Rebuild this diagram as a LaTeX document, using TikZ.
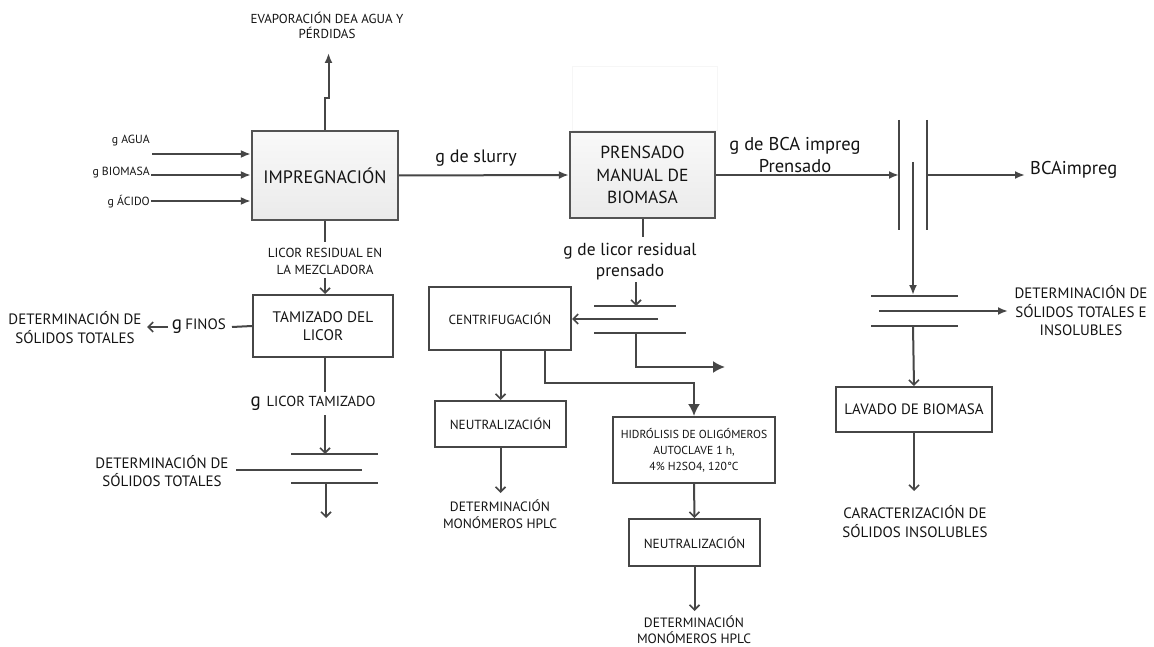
\documentclass[tikz,border=0pt]{standalone}
\usepackage{fontspec}
\setmainfont{PT Sans}
\usetikzlibrary{arrows.meta}
\definecolor{lc}{HTML}{464646}
\definecolor{tc}{HTML}{141414}
\begin{document}
\begin{tikzpicture}[x=1pt,y=-1pt,
  every node/.style={text=tc, inner sep=0pt},
  ln/.style={draw=lc, line width=2pt},
  fa/.style={ln, -{Latex[length=10pt,width=8pt]}},
  fab/.style={ln, -{Latex[length=12pt,width=12pt]}},
  va/.style={ln, -{Straight Barb[length=5pt,width=10pt,line width=1.6pt]}},
  box/.style={draw=lc, line width=2pt, fill=white, align=center, font=\fontsize{13.2}{16}\selectfont},
  gbox/.style={draw=gray!65!black, line width=2.3pt, top color=gray!5, bottom color=gray!16, align=center},
  sm/.style={align=center},
]
\useasboundingbox (0,0) rectangle (1154,647);
\fill[white] (0,0) rectangle (1154,647);

% faint frame above the pressing step
\draw[gray!7, line width=1pt] (572,67) rectangle (717,131);

% main process boxes
\node[gbox, minimum width=146pt, minimum height=89pt, font=\fontsize{18}{20}\selectfont] (imp) at (325,175.5) {IMPREGNACIÓN};
\node[gbox, minimum width=145pt, minimum height=86pt, font=\fontsize{17.5}{22.5}\selectfont] (pre) at (642.5,175) {PRENSADO\\MANUAL DE\\BIOMASA};

% input streams
\node[sm, anchor=east, font=\fontsize{11.8}{13}\selectfont] (lagua) at (150,141) {g AGUA};
\node[sm, anchor=east, font=\fontsize{11.8}{13}\selectfont] (lbio) at (150,173) {g BIOMASA};
\node[sm, anchor=east, font=\fontsize{11.8}{13}\selectfont] (laci) at (150,202) {g ÁCIDO};
\coordinate (inA) at (152,154);
\coordinate (inB) at (151,175);
\coordinate (inC) at (151,201);
\draw[fa] (inA) -- (inA -| imp.west);
\draw[fa] (inB) -- (inB -| imp.west);
\draw[fa] (inC) -- (inC -| imp.west);

% evaporation
\node[sm, font=\fontsize{13}{15}\selectfont] (evap) at (327,25) {EVAPORACIÓN DEA AGUA Y\\PÉRDIDAS};
\coordinate (evt) at (328.5,53);
\draw[fa] (imp.north) -- (325,98) -| (evt);

% slurry to pressing
\node[sm, font=\fontsize{18}{20}\selectfont] (lslur) at (476,158) {g de slurry};
\draw[fa] (imp.east) -- (pre.west);

% pressed biomass to the vertical separator
\node[sm, font=\fontsize{18.5}{22}\selectfont] (lbca) at (795,155) {g de BCA impreg\\Prensado};
\coordinate (sA1) at (899,120); \coordinate (sA2) at (899,230);
\coordinate (sC1) at (927,120); \coordinate (sC2) at (927,230);
\coordinate (sB1) at (913,162); \coordinate (sB2) at (913,295);
\draw[ln] (sA1) -- (sA2);
\draw[ln] (sC1) -- (sC2);
\draw[fa] (pre.east) -- (pre.east -| sA1);
\coordinate (bout) at (1025,175);
\draw[fa] (bout -| sC1) -- (bout);
\node[sm, anchor=west, font=\fontsize{18.5}{20}\selectfont] (lbout) at (1030,170) {BCAimpreg};
\draw[fa] (sB1) -- (sB2);

% horizontal separator on the right
\coordinate (rT1) at (871,296); \coordinate (rT2) at (958,296);
\coordinate (rM1) at (879,311); \coordinate (rM2) at (1008,311);
\coordinate (rB1) at (871,326); \coordinate (rB2) at (958,326);
\draw[ln] (rT1) -- (rT2);
\draw[ln] (rB1) -- (rB2);
\draw[fa] (rM1) -- (rM2);
\node[sm, font=\fontsize{15}{18.5}\selectfont] (ldst) at (1081,311) {DETERMINACIÓN DE\\SÓLIDOS TOTALES E\\INSOLUBLES};

\node[box, minimum width=156pt, minimum height=45pt, font=\fontsize{15}{18}\selectfont] (lav) at (914,409.5) {LAVADO DE BIOMASA};
\draw[va] (rB1 -| sB1) -- (lav.north);
\coordinate (lavo) at (914,491);
\draw[va] (lav.south) -- (lavo);
\node[sm, font=\fontsize{15}{19}\selectfont] (lcar) at (915,522) {CARACTERIZACIÓN DE\\SÓLIDOS INSOLUBLES};

% pressed liquor branch
\coordinate (pl1) at (642.5,237);
\draw[ln] (pre.south) -- (pl1);
\node[sm, font=\fontsize{17.4}{21}\selectfont] (lpl) at (630,262) {g de licor residual\\prensado};
\coordinate (mT1) at (594,306); \coordinate (mT2) at (676,306);
\coordinate (mM) at (658,319);
\coordinate (mB1) at (594,333); \coordinate (mB2) at (686,333);
\coordinate (pla) at (636,282);
\draw[va] (pla) -- (pla |- mT1);
\draw[ln] (mT1) -- (mT2);
\draw[ln] (mB1) -- (mB2);

\node[box, minimum width=142pt, minimum height=63pt] (cen) at (500,318.5) {CENTRIFUGACIÓN};
\draw[va] (mM) -- (mM -| cen.east);
\coordinate (mo) at (725,367);
\draw[fab] (pla |- mB1) |- (mo);

\node[box, minimum width=131pt, minimum height=46pt] (n1) at (500.5,424) {NEUTRALIZACIÓN};
\draw[va] (n1.north |- cen.south) -- (n1.north);
\coordinate (d1) at (500.5,493);
\draw[va] (n1.south) -- (d1);
\node[sm, font=\fontsize{13.5}{16.5}\selectfont] (ld1) at (500,514) {DETERMINACIÓN\\MONÓMEROS HPLC};

\node[box, minimum width=162pt, minimum height=66pt, font=\fontsize{11.6}{16}\selectfont] (hid) at (694,450) {HIDRÓLISIS DE OLIGÓMEROS\\AUTOCLAVE 1 h,\\4\% H2SO4, 120°C};
\coordinate (hk) at (545,383);
\draw[fab] (hk |- cen.south) -- (hk) -| (hid.north);

\node[box, minimum width=131pt, minimum height=47pt] (n2) at (694.5,542.5) {NEUTRALIZACIÓN};
\draw[va] (hid.south) -- (n2.north);
\coordinate (d2) at (694.5,611);
\draw[va] (n2.south) -- (d2);
\node[sm, font=\fontsize{13.5}{16}\selectfont] (ld2) at (694,629.5) {DETERMINACIÓN\\MONÓMEROS HPLC};

% residual liquor from the mixer
\coordinate (rl1) at (325,242);
\draw[ln] (imp.south) -- (rl1);
\node[sm, font=\fontsize{13.1}{17}\selectfont] (lrl) at (325,261.5) {LICOR RESIDUAL EN\\LA MEZCLADORA};
\node[box, minimum width=140pt, minimum height=62pt, font=\fontsize{15.3}{18}\selectfont] (tam) at (323,326) {TAMIZADO DEL\\LICOR};
\coordinate (rla) at (325,278);
\draw[va] (rla) -- (rla |- tam.north);

% fines
\coordinate (fi1) at (232,327);
\draw[ln] (tam.west) -- (fi1);
\node[anchor=east] (lfin) at (226,326) {\fontsize{19}{20}\selectfont g\,\fontsize{15}{16}\selectfont FINOS};
\coordinate (fa1) at (168,327); \coordinate (fa2) at (147,327);
\draw[va] (fa1) -- (fa2);
\node[sm, font=\fontsize{15}{19}\selectfont] (lfd) at (75,327.5) {DETERMINACIÓN DE\\SÓLIDOS TOTALES};

% sieved liquor
\coordinate (ta1) at (325,392);
\draw[ln] (tam.south -| ta1) -- (ta1);
\node (ltam) at (313,403) {\fontsize{19}{20}\selectfont g\hspace{6pt}\fontsize{14.5}{16}\selectfont LICOR TAMIZADO};
\coordinate (lT1) at (291,454); \coordinate (lT2) at (378,454);
\coordinate (lM1) at (236,470); \coordinate (lM2) at (362,470);
\coordinate (lB1) at (291,483); \coordinate (lB2) at (378,483);
\coordinate (taa) at (325,415);
\draw[va] (taa) -- (taa |- lT1);
\draw[ln] (lT1) -- (lT2);
\draw[ln] (lM1) -- (lM2);
\draw[ln] (lB1) -- (lB2);
\coordinate (lo) at (326,518);
\draw[va] (lo |- lB1) -- (lo);
\node[sm, font=\fontsize{15}{18}\selectfont] (lld) at (162,471) {DETERMINACIÓN DE\\SÓLIDOS TOTALES};
\end{tikzpicture}
\end{document}
